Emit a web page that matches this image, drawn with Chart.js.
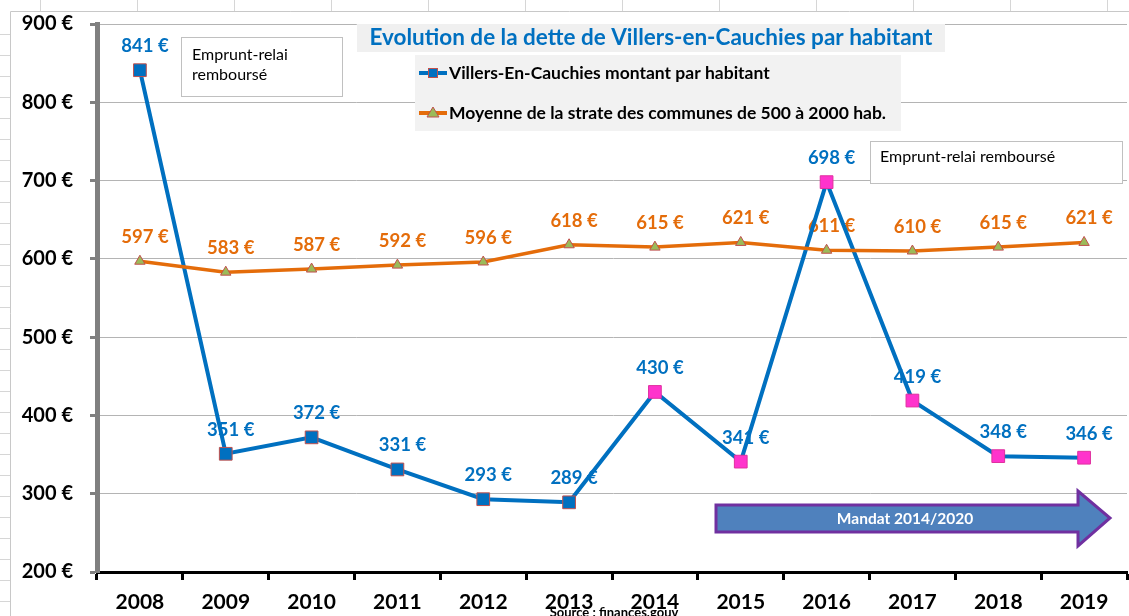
<!DOCTYPE html>
<html lang="fr">
<head>
<meta charset="UTF-8">
<title>Evolution de la dette de Villers-en-Cauchies par habitant</title>
<script src="https://cdn.jsdelivr.net/npm/chart.js@4.4.1/dist/chart.umd.min.js"></script>
<style>
  html, body { margin: 0; padding: 0; background: #fff; }
  #wrap { width: 1129px; height: 616px; position: relative; }
</style>
</head>
<body>
<div id="wrap"><canvas id="chart" width="1129" height="616"></canvas></div>
<script>
// data
const years = ['2008', '2009', '2010', '2011', '2012', '2013', '2014', '2015', '2016', '2017', '2018', '2019'];
const villers = [841, 351, 372, 331, 293, 289, 430, 341, 698, 419, 348, 346];
const moyenne = [597, 583, 587, 592, 596, 618, 615, 621, 611, 610, 615, 621];
const yTicks = [200, 300, 400, 500, 600, 700, 800, 900];

const titleText = 'Evolution de la dette de Villers-en-Cauchies par habitant';
const labelVillers = 'Villers-En-Cauchies montant par habitant';
const labelMoyenne = 'Moyenne de la strate des communes de 500 à 2000 hab.';

const FONT = 'Lato, "Open Sans", sans-serif';
const BLUE = '#0070C0';
const ORANGE = '#E46C0A';

// markers: blue before the 2014 mandate, pink after
const villersFill = years.map(y => +y < 2014 ? BLUE : '#FF33CC');
const villersEdge = years.map(y => +y < 2014 ? '#C0504D' : '#E0309F');

function euro(v) { return v + ' €'; }

const decorPlugin = {
    id: 'decor',
    beforeDraw(chart) {
        const ctx = chart.ctx;
        ctx.save();
        // spreadsheet frame behind the chart
        ctx.strokeStyle = '#d6d6d6';
        ctx.lineWidth = 1;
        for (let x = 40; x < 1129; x += 97) {
            ctx.beginPath(); ctx.moveTo(x + 0.5, 0); ctx.lineTo(x + 0.5, 11); ctx.stroke();
        }
        for (let y = 34; y < 616; y += 21) {
            ctx.beginPath(); ctx.moveTo(0, y + 0.5); ctx.lineTo(10, y + 0.5); ctx.stroke();
        }
        ctx.strokeStyle = '#c8c8c8';
        ctx.beginPath();
        ctx.moveTo(10.5, 616); ctx.lineTo(10.5, 11.5); ctx.lineTo(1129, 11.5);
        ctx.stroke();
        ctx.restore();
    },
    beforeDatasetsDraw(chart) {
        // value labels sit under the lines, as in the original
        const ctx = chart.ctx;
        ctx.save();
        ctx.font = 'bold 18.5px ' + FONT;
        ctx.textAlign = 'center';
        ctx.textBaseline = 'middle';
        chart.data.datasets.forEach((ds, i) => {
            const meta = chart.getDatasetMeta(i);
            ctx.fillStyle = ds.borderColor;
            meta.data.forEach((pt, j) => {
                ctx.fillText(euro(ds.data[j]), pt.x + 5, pt.y - 24);
            });
        });
        ctx.restore();
    },
    afterDraw(chart) {
        const ctx = chart.ctx;
        ctx.save();

        // title box
        ctx.fillStyle = '#f0f0f0';
        ctx.fillRect(357, 24, 588, 28);
        ctx.fillStyle = BLUE;
        ctx.font = 'bold 22.5px ' + FONT;
        ctx.textAlign = 'center';
        ctx.textBaseline = 'middle';
        ctx.fillText(titleText, 651, 38);

        // legend box
        ctx.fillStyle = '#f2f2f2';
        ctx.fillRect(415, 55, 486, 76);
        ctx.textAlign = 'left';
        ctx.font = 'bold 17.5px ' + FONT;
        const ds = chart.data.datasets;
        [[ds[0], 73], [ds[1], 113]].forEach(([d, y]) => {
            ctx.strokeStyle = d.borderColor;
            ctx.lineWidth = 4;
            ctx.beginPath(); ctx.moveTo(419, y); ctx.lineTo(447, y); ctx.stroke();
            if (d.pointStyle === 'rect') {
                ctx.fillStyle = BLUE; ctx.strokeStyle = '#C0504D'; ctx.lineWidth = 1;
                ctx.fillRect(428, y - 5, 10, 10); ctx.strokeRect(428.5, y - 4.5, 9, 9);
            } else {
                ctx.fillStyle = '#9BBB59'; ctx.strokeStyle = '#C0504D'; ctx.lineWidth = 1;
                ctx.beginPath(); ctx.moveTo(433, y - 6); ctx.lineTo(439, y + 4); ctx.lineTo(427, y + 4); ctx.closePath();
                ctx.fill(); ctx.stroke();
            }
            ctx.fillStyle = '#000';
            ctx.fillText(d.label, 449, y);
        });

        // text boxes
        ctx.font = '16px ' + FONT;
        ctx.fillStyle = '#fff';
        ctx.strokeStyle = '#c0c0c0';
        ctx.lineWidth = 1;
        ctx.fillRect(181, 37, 161, 59); ctx.strokeRect(181.5, 37.5, 161, 59);
        ctx.fillRect(870, 141, 252, 42); ctx.strokeRect(870.5, 141.5, 252, 42);
        ctx.fillStyle = '#000';
        ctx.fillText('Emprunt-relai', 192, 55);
        ctx.fillText('remboursé', 192, 75);
        ctx.fillText('Emprunt-relai remboursé', 880, 157);

        // mandate arrow
        ctx.beginPath();
        ctx.moveTo(716, 505); ctx.lineTo(1078, 505); ctx.lineTo(1078, 491);
        ctx.lineTo(1110, 518); ctx.lineTo(1078, 546); ctx.lineTo(1078, 532);
        ctx.lineTo(716, 532); ctx.closePath();
        ctx.fillStyle = '#4F81BD'; ctx.fill();
        ctx.strokeStyle = '#7030A0'; ctx.lineWidth = 3; ctx.stroke();
        ctx.fillStyle = '#fff';
        ctx.font = 'bold 15.5px ' + FONT;
        ctx.textAlign = 'center';
        ctx.fillText('Mandat 2014/2020', 905, 519);

        // source line, clipped at the bottom edge
        ctx.fillStyle = '#000';
        ctx.font = 'bold 13px ' + FONT;
        ctx.fillText('Source : finances.gouv', 614, 613);
        ctx.restore();
    }
};

new Chart(document.getElementById('chart'), {
    type: 'line',
    data: {
        labels: years,
        datasets: [
            {
                label: labelVillers,
                data: villers,
                borderColor: BLUE,
                borderWidth: 4,
                pointStyle: 'rect',
                pointRadius: 9,
                pointBackgroundColor: villersFill,
                pointBorderColor: villersEdge,
                pointBorderWidth: 1,
                tension: 0,
                order: 2
            },
            {
                label: labelMoyenne,
                data: moyenne,
                borderColor: ORANGE,
                borderWidth: 3.5,
                pointStyle: 'triangle',
                pointRadius: 6,
                pointBackgroundColor: '#9BBB59',
                pointBorderColor: '#C0504D',
                pointBorderWidth: 1,
                tension: 0,
                order: 1
            }
        ]
    },
    options: {
        responsive: false,
        animation: false,
        layout: { autoPadding: false, padding: { top: 24, right: 2, left: 0, bottom: 0 } },
        plugins: {
            legend: { display: false },
            title: { display: false },
            tooltip: { enabled: false }
        },
        scales: {
            x: {
                offset: true,
                grid: {
                    offset: true,
                    drawOnChartArea: false,
                    tickColor: '#000',
                    tickWidth: 3,
                    tickLength: 8
                },
                border: { color: '#000', width: 3 },
                ticks: {
                    color: '#000',
                    font: { family: FONT, size: 21, weight: 'bold' },
                    padding: 10
                },
                afterFit(scale) {
                    scale.height = 44;
                    scale.paddingLeft = 0;
                    scale.paddingRight = 0;
                }
            },
            y: {
                min: 200,
                max: 900,
                afterBuildTicks(scale) { scale.ticks = yTicks.map(v => ({ value: v })); },
                grid: {
                    color: '#b4b4b4',
                    lineWidth: 1,
                    tickColor: '#808080',
                    tickWidth: 3,
                    tickLength: 7
                },
                border: { color: '#808080', width: 5 },
                ticks: {
                    color: '#000',
                    font: { family: FONT, size: 20, weight: 'bold' },
                    padding: 17,
                    callback: v => euro(v)
                },
                afterFit(scale) {
                    scale.width = 97;
                    scale.paddingTop = 0;
                    scale.paddingBottom = 0;
                }
            }
        }
    },
    plugins: [decorPlugin]
});
</script>
</body>
</html>
